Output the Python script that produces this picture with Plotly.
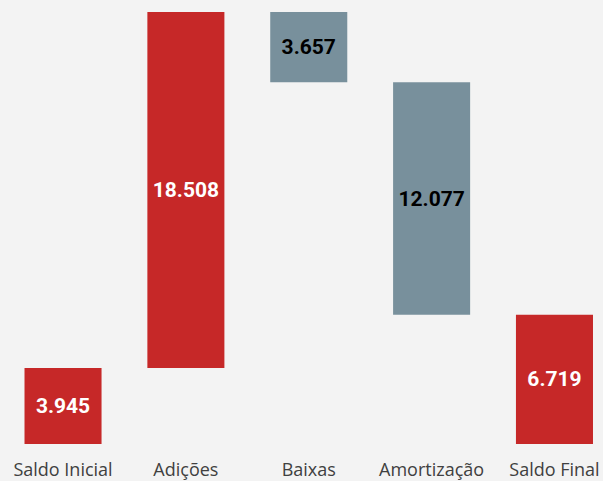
import plotly.graph_objects as go

categories = ["Saldo Inicial", "Adições", "Baixas", "Amortização", "Saldo Final"]
measures = ["absolute", "relative", "relative", "relative", "total"]
values = [3945, 18508, -3657, -12077, 6719]
label_values = [3945, 18508, 3657, 12077, 6719]
label_colors = ["white", "white", "black", "black", "white"]

texts = [f"{v:,}".replace(",", ".") for v in label_values]

fig = go.Figure(go.Waterfall(
    x=categories,
    measure=measures,
    y=[v if m != "total" else 0 for v, m in zip(values, measures)],
    text=texts,
    textposition="inside",
    insidetextanchor="middle",
    textfont=dict(family="Roboto", size=21, color=label_colors, weight="bold"),
    increasing=dict(marker=dict(color="#C62828")),
    decreasing=dict(marker=dict(color="#78909C")),
    totals=dict(marker=dict(color="#C62828")),
    connector=dict(visible=False),
    width=0.627,
    hoverinfo="skip",
))

fig.update_layout(
    width=603, height=481,
    margin=dict(l=0, r=0, t=12, b=37),
    paper_bgcolor="#f3f3f3",
    plot_bgcolor="#f3f3f3",
    showlegend=False,
    xaxis=dict(range=[-0.513, 4.395], showgrid=False, zeroline=False, showline=False,
               tickfont=dict(family="Open Sans", size=18, color="#404040"), ticks="",
               ticklabelstandoff=13),
    yaxis=dict(range=[0, 22453], visible=False, showgrid=False, zeroline=False),
    uniformtext=dict(minsize=8, mode="show"),
)

fig.write_html("out.html", config={"displayModeBar": False},
               post_script="document.body.style.margin='0px';document.body.style.background='#f3f3f3';")
